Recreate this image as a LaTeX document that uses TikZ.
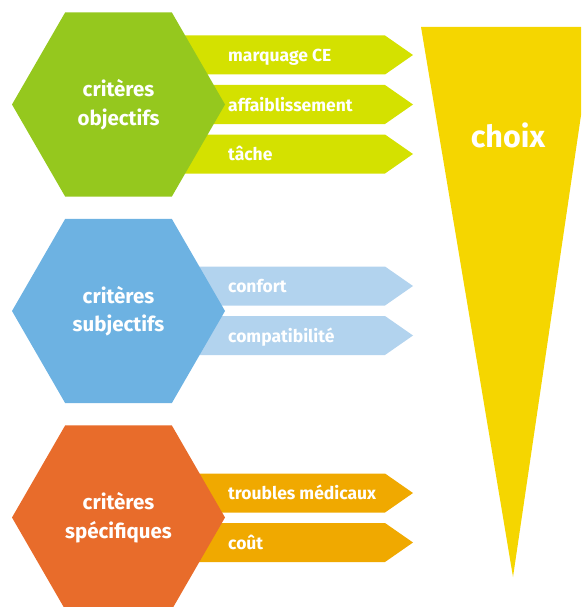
\documentclass[tikz,border=0pt]{standalone}
\usepackage{fontspec}
\setmainfont{Fira Sans}
\usetikzlibrary{shapes.geometric,positioning}
\definecolor{crgreen}{HTML}{95C81E}
\definecolor{crlime}{HTML}{D4E100}
\definecolor{crblue}{HTML}{6DB2E2}
\definecolor{crpale}{HTML}{B2D3EE}
\definecolor{crorange}{HTML}{E86C2B}
\definecolor{cramber}{HTML}{F0A900}
\definecolor{cryellow}{HTML}{F5D600}
\tikzset{
  cr hex/.style={regular polygon, regular polygon sides=6, minimum size=213pt,
    inner sep=0pt, align=center, text=white,
    font=\bfseries\fontsize{20.5}{28.5}\selectfont},
  cr label/.style={anchor=base west, inner sep=0pt, text=white,
    font=\bfseries\fontsize{17.5}{20}\selectfont},
  cr choice/.style={inner sep=0pt, text=white,
    font=\bfseries\fontsize{30.5}{34}\selectfont}
}

\begin{document}
\begin{tikzpicture}[x=1pt, y=-1pt]
  \useasboundingbox (0,0) rectangle (581,607);
  \clip (0,0) rectangle (581,607);
  % funnel
  \fill[cryellow] (421,27) -- (594,27) -- (513,577) -- cycle;
  \node[cr choice] (choix) at (508,135) {choix};
  % arrows: centre y / colour / text / name
  \foreach \y/\col/\lab/\name in {
      55/crlime/marquage CE/ce, 104.5/crlime/affaiblissement/affaib, 154/crlime/tâche/tache,
      286/crpale/confort/confort, 335.5/crpale/compatibilité/compat,
      493/cramber/troubles médicaux/medic, 542.5/cramber/coût/cout} {
    \fill[\col] (180,\y-19.5) -- (385,\y-19.5) -- (413,\y) -- (385,\y+19.5)
      -- (180,\y+19.5) -- cycle;
    \node[cr label] (\name) at (228,\y+6.5) {\lab};
  }
  % hexagons
  \node[cr hex, fill=crgreen] (obj) at (118.5,104.5) {critères\\objectifs};
  \node[cr hex, fill=crblue] (subj) at (118.5,311) {critères\\subjectifs};
  \node[cr hex, fill=crorange] (spec) at (118.5,517.5) {critères\\spécifiques};
\end{tikzpicture}
\end{document}
